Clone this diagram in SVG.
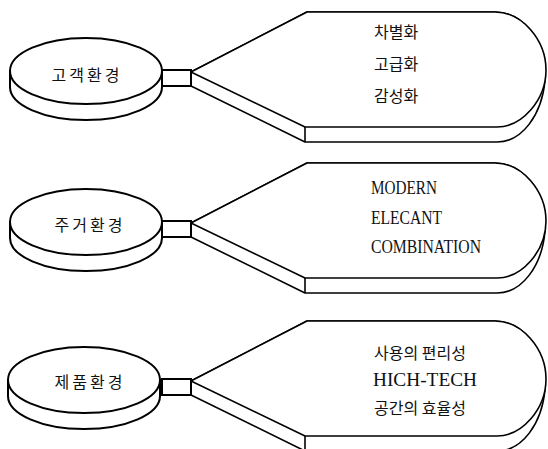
<svg xmlns="http://www.w3.org/2000/svg" width="548" height="449" viewBox="0 0 548 449">
<style>
.e{fill:#fff;stroke:#000;stroke-width:2}
.s{fill:#fff;stroke:#000;stroke-width:1.6;stroke-linejoin:round}
.l{fill:none;stroke:#000;stroke-width:1.6}
.k{font-family:"Noto Sans CJK KR","Noto Sans",sans-serif;font-size:16px;fill:#111}
.kl{font-family:"Noto Sans CJK KR","Noto Sans",sans-serif;font-size:16px;fill:#111;letter-spacing:3px;text-anchor:middle}
.r{font-family:"Liberation Serif",serif;font-size:18px;fill:#111}
</style>
<defs>
<g id="disc">
<path class="e" d="M10,71 L10,87 A76 33 0 0 0 162,87 L162,71 Z"/>
<ellipse class="e" cx="86" cy="71" rx="76" ry="33"/>
</g>
<g id="slab">
<path class="s" d="M191,86 L305,142 L497,142 C522,142 542,115 545,80 L545,70 C545,40 522,12 495,12 L307,12 L191,72 Z"/>
<path class="s" d="M191,72 L307,12 L495,12 C522,12 546,40 546,70 C546,100 522,127 497,127 L305,127 Z"/>
<path class="l" d="M305,127 L305,142"/>
<rect class="e" x="162" y="70" width="29" height="16"/>
</g>
</defs>
<g id="connectors"></g>
<g id="node-customer">
<use href="#slab"/>
<use href="#disc"/>
<text class="kl" x="87" y="81">고객환경</text>
<text class="k" x="374" y="38">차별화</text>
<text class="k" x="374" y="70">고급화</text>
<text class="k" x="374" y="102">감성화</text>
</g>
<g id="node-housing" transform="translate(0,151)">
<use href="#slab"/>
<use href="#disc"/>
<text class="kl" x="90" y="80">주거환경</text>
<text class="r" x="371" y="43" textLength="66" lengthAdjust="spacingAndGlyphs">MODERN</text>
<text class="r" x="371" y="73" textLength="71" lengthAdjust="spacingAndGlyphs">ELECANT</text>
<text class="r" x="371" y="102" textLength="110" lengthAdjust="spacingAndGlyphs">COMBINATION</text>
</g>
<g id="node-product" transform="translate(0,309)">
<use href="#slab"/>
<use href="#disc" transform="translate(-2,0)"/>
<text class="kl" x="90" y="79">제품환경</text>
<text class="k" x="374" y="50">사용의 편리성</text>
<text class="r" x="373" y="77" font-size="19" textLength="104" lengthAdjust="spacingAndGlyphs">HICH-TECH</text>
<text class="k" x="374" y="105">공간의 효율성</text>
</g>
</svg>
